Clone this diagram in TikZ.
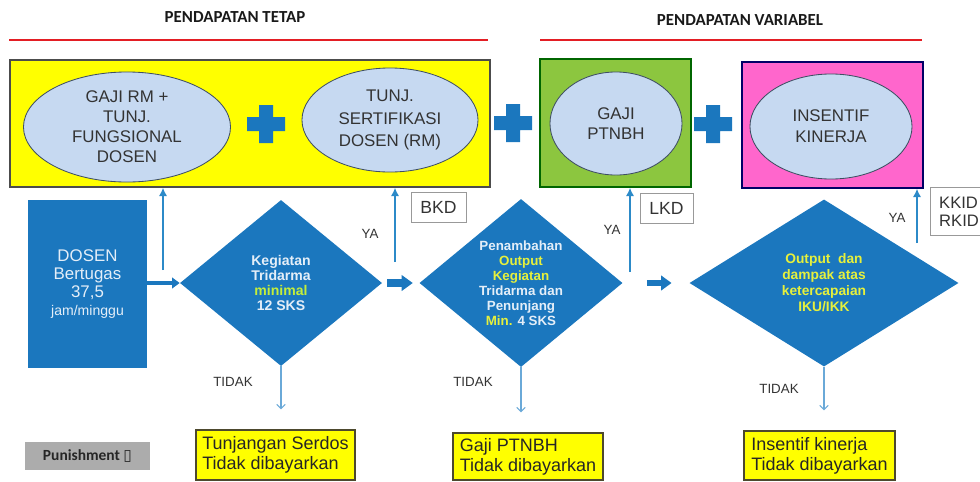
\documentclass[tikz,border=0pt]{standalone}
\usepackage{fontspec}
\setmainfont{Liberation Sans}
\newfontfamily\calibri{Carlito}
\newfontfamily\dejavu{DejaVu Sans}
\usetikzlibrary{shapes.geometric,arrows.meta}
\definecolor{flowblue}{HTML}{1B77BE}
\definecolor{upblue}{HTML}{2C8AC8}
\definecolor{downblue}{HTML}{6AA9D8}
\definecolor{bubblefill}{HTML}{C6D9F1}
\definecolor{bubbleline}{HTML}{3F4F63}
\definecolor{textgray}{HTML}{333333}
\definecolor{panelyellow}{HTML}{FFFF00}
\definecolor{panelgreen}{HTML}{8CC63F}
\definecolor{panelpink}{HTML}{FF66CC}
\definecolor{hiyellow}{HTML}{E6F03C}
\definecolor{hilime}{HTML}{C4EE3A}
\definecolor{pale}{HTML}{E4EEF8}
\definecolor{redrule}{HTML}{E31E24}
\newcommand{\plusmark}[1]{\fill[flowblue,shift={#1}] (-7,-19) rectangle (7,19) (-19,-7) rectangle (19,7);}
\tikzset{
  panel/.style={draw=#1, line width=1pt, inner sep=0pt},
  bubble/.style={ellipse, draw=bubbleline, fill=bubblefill, line width=0.6pt, inner sep=0pt, align=center, text=textgray},
  decision/.style={diamond, fill=flowblue, inner sep=0pt, aspect=1.2, align=center, text=pale, font=\bfseries\fontsize{10}{10.7}\selectfont},
  fatarrow/.style={draw=flowblue, line width=#1, -{Triangle[length=2pt 1.2, width=3pt 1.6]}},
  yaarrow/.style={draw=upblue, line width=1.3pt, -{Latex[length=6pt,width=6pt]}},
  tidakarrow/.style={draw=downblue, line width=0.8pt, shorten >=0.5cm, -{Straight Barb[length=3pt,width=6pt]}},
  tagbox/.style={draw=gray!80, fill=white, line width=0.6pt, inner sep=0pt, text=textgray, font=\fontsize{12.5}{13}\selectfont},
  penalty/.style={draw=black!60!olive, fill=panelyellow, line width=0.9pt, align=left, text=black!85, font=\fontsize{12.8}{14.2}\selectfont},
  lbl/.style={text=textgray, font=\fontsize{9.5}{11}\selectfont},
  heading/.style={text=black!90, font=\calibri\bfseries\fontsize{12}{14}\selectfont}
}
\begin{document}
\begin{tikzpicture}[x=0.025cm,y=-0.025cm]
\useasboundingbox (0,0) rectangle (980,481);
\node[heading] (tetaph) at (235,17) {PENDAPATAN TETAP};
\node[heading] (variabelh) at (740,20) {PENDAPATAN VARIABEL};
\draw[redrule,line width=2pt] (9,40) -- (488,40);
\draw[redrule,line width=2pt] (540,40) -- (922,40);

\node[panel=black!70, fill=panelyellow, minimum width=12cm, minimum height=3.175cm] (tetap) at (250,123.5) {};
\node[panel=black!60!green, fill=panelgreen, minimum width=3.775cm, minimum height=3.2cm] (ptnbh) at (615.5,123) {};
\node[panel=blue!40!black, fill=panelpink, minimum width=4.525cm, minimum height=3.15cm] (kinerja) at (832.5,125) {};

\node[bubble, minimum width=5.175cm, minimum height=2.75cm, font=\fontsize{12}{14.2}\selectfont] (gajirm) at (127,127) {GAJI RM +\\TUNJ.\\FUNGSIONAL\\DOSEN};
\node[bubble, minimum width=4.4cm, minimum height=2.6cm, font=\fontsize{12}{16}\selectfont] (serdosb) at (390,120) {TUNJ.\\SERTIFIKASI\\DOSEN (RM)};
\node[bubble, minimum width=3.3cm, minimum height=2.575cm, font=\fontsize{12}{14.2}\selectfont] (gajib) at (616,123.5) {GAJI\\PTNBH};
\node[bubble, minimum width=4.05cm, minimum height=2.625cm, font=\fontsize{12}{15}\selectfont] (insentifb) at (831,126.5) {INSENTIF\\KINERJA};
\plusmark{(266,124)}
\plusmark{(513,123)}
\plusmark{(713,124)}

\node[fill=flowblue, minimum width=2.975cm, minimum height=4.2cm, align=center, text=pale, font=\fontsize{12}{12.8}\selectfont] (dosen) at (87.5,284) {DOSEN\\Bertugas\\37,5\\{\fontsize{10}{12}\selectfont jam/minggu}};
\node[decision, minimum width=5.05cm, minimum height=4.15cm] (d1) at (281,283) {Kegiatan\\Tridarma\\\textcolor{hilime}{minimal}\\12 SKS};
\node[decision, minimum width=5.075cm, minimum height=4.2cm, font=\bfseries\fontsize{9.5}{10.7}\selectfont] (d2) at (521,283) {Penambahan\\\textcolor{hiyellow}{Output}\\\textcolor{hiyellow}{Kegiatan}\\Tridarma dan\\Penunjang\\\textcolor{hiyellow}{Min.} 4 SKS};
\node[decision, minimum width=6.725cm, minimum height=4.175cm, text=hiyellow, font=\bfseries\fontsize{9.8}{11.4}\selectfont] (d3) at (824,283) {Output\ \ dan\\dampak atas\\ketercapaian\\IKU/IKK};

\node[tagbox, minimum width=1.375cm, minimum height=0.75cm] (bkd) at (438.5,207) {BKD};
\node[tagbox, minimum width=1.325cm, minimum height=0.75cm] (lkd) at (666.5,208) {LKD};
\node[tagbox, anchor=north west, minimum height=1.2cm, text width=1.6cm, inner xsep=0.22cm, align=left, font=\fontsize{11.8}{13}\selectfont] (kkid) at (930,187) {KKID\\RKID};

\node[lbl] (ya1) at (370,234) {YA};
\node[lbl] (ya2) at (612,230) {YA};
\node[lbl] (ya3) at (897,218) {YA};
\node[lbl] (tidak1) at (233,382) {TIDAK};
\node[lbl] (tidak2) at (473,382) {TIDAK};
\node[lbl] (tidak3) at (779,389) {TIDAK};

\coordinate (rise0) at (163,270);
\coordinate (rise1) at (395,262);
\coordinate (rise2) at (630,272);
\coordinate (rise3) at (917,243);
\draw[yaarrow] (rise0) -- (rise0 |- tetap.south);
\draw[yaarrow] (rise1) -- (rise1 |- tetap.south);
\draw[yaarrow] (rise2) -- (rise2 |- ptnbh.south);
\draw[yaarrow] (rise3) -- (rise3 |- kinerja.south);

\draw[fatarrow=2.8pt] (dosen.east |- d1.west) -- (d1.west);
\draw[fatarrow=5pt] ([xshift=0.125cm]d1.east) -- ([xshift=-0.16cm]d2.west);
\draw[fatarrow=4.5pt] ([xshift=0.6cm]d2.east) -- ([xshift=-0.44cm]d3.west);

\node[penalty, minimum width=3.975cm, minimum height=1.25cm] (serdos) at (275.5,455) {Tunjangan Serdos\\Tidak dibayarkan};
\node[penalty, minimum width=3.75cm, minimum height=1.175cm] (gaji) at (528,456.5) {Gaji PTNBH\\Tidak dibayarkan};
\node[penalty, minimum width=3.775cm, minimum height=1.225cm] (insentif) at (819.5,455.5) {Insentif kinerja\\Tidak dibayarkan};
\draw[tidakarrow] (d1.south) -- (d1.south |- serdos.north);
\draw[tidakarrow] (d2.south) -- (d2.south |- gaji.north);
\draw[tidakarrow] (d3.south) -- (d3.south |- insentif.north);

\node[fill=gray!65, minimum width=3.125cm, minimum height=0.7cm, text=black!85, font=\calibri\bfseries\fontsize{11}{12}\selectfont] (punish) at (87.5,456) {Punishment {\dejavu\mdseries ▯}};
\end{tikzpicture}
\end{document}
